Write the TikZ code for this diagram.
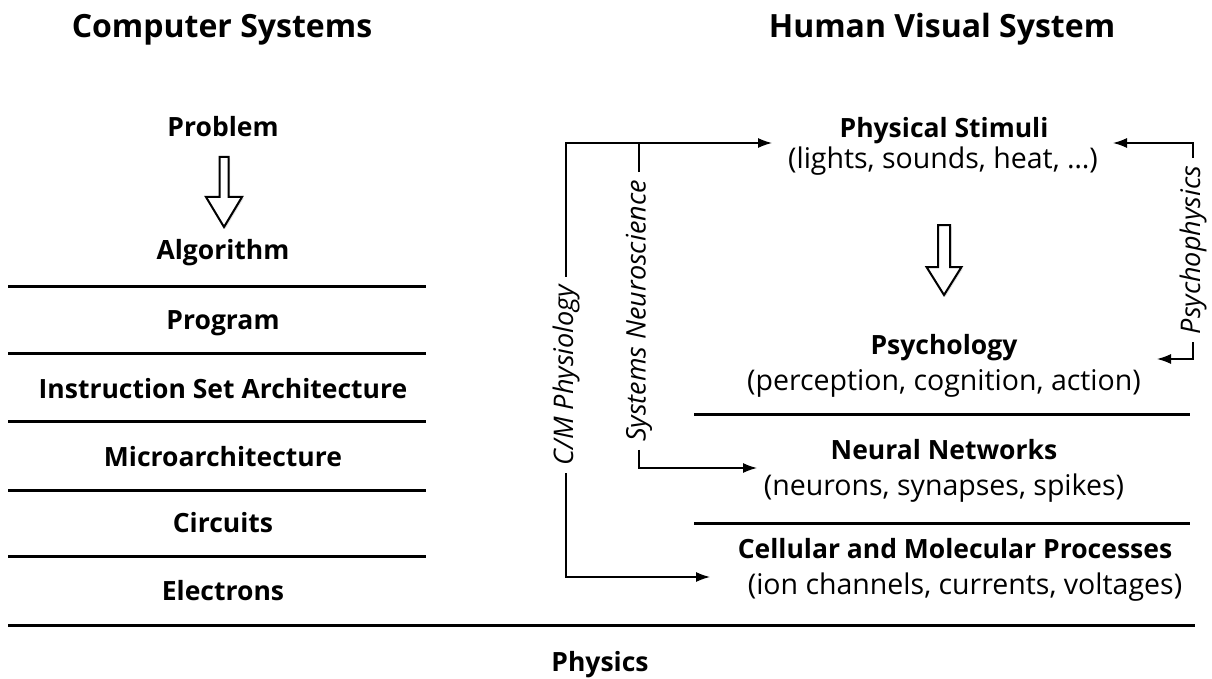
\documentclass[tikz,border=0pt]{standalone}
\usepackage{fontspec}
\setmainfont{Open Sans}
\usetikzlibrary{arrows.meta,shadows}
\begin{document}
\begin{tikzpicture}[x=1pt,y=1pt,
  title/.style={font=\fontsize{32}{38}\selectfont\bfseries, anchor=base, inner sep=0pt},
  layer/.style={font=\fontsize{26.5}{30}\selectfont\bfseries, anchor=base, inner sep=0pt},
  sub/.style={font=\fontsize{28.5}{32}\selectfont, anchor=base, inner sep=0pt},
  rule/.style={line width=3pt},
  conn/.style={line width=1.3pt},
  arr/.style={conn, -{Latex[length=14pt,width=10pt]}},
  lab/.style={font=\fontsize{27}{30}\selectfont\itshape, rotate=90, inner xsep=8pt, inner ysep=0pt},
  hollow/.style={draw=black, line width=2pt, fill=white, line join=miter,
    drop shadow={shadow xshift=1.5pt, shadow yshift=-1.5pt, opacity=0.25}}
]
\useasboundingbox (0,0) rectangle (1212,-679);

% titles
\node[title] (cs) at (222,-38) {Computer Systems};
\node[title] (hvs) at (942,-38) {Human Visual System};

% left column
\node[layer] (prob) at (223,-137) {Problem};
\node[layer] (alg) at (223,-259) {Algorithm};
\node[layer] (prog) at (223,-329) {Program};
\node[layer] (isa) at (223,-398) {Instruction Set Architecture};
\node[layer] (uarch) at (223,-466) {Microarchitecture};
\node[layer] (circ) at (223,-532) {Circuits};
\node[layer] (elec) at (223,-600) {Electrons};
\node[layer] (phys) at (600,-671) {Physics};

\draw[rule] (8,-286) -- (426,-286);
\draw[rule] (8,-353) -- (426,-353);
\draw[rule] (8,-421) -- (426,-421);
\draw[rule] (8,-490) -- (426,-490);
\draw[rule] (8,-556) -- (426,-556);
\draw[rule] (8,-625) -- (1195,-625);
\draw[rule] (694,-414) -- (1190,-414);
\draw[rule] (694,-523) -- (1190,-523);

% hollow arrows
\draw[hollow] (219.5,-157) -- (228.5,-157) -- (228.5,-197) -- (242,-197) -- (224,-227)
  -- (206,-197) -- (219.5,-197) -- cycle;
\draw[hollow] (938,-225) -- (950,-225) -- (950,-267) -- (961.5,-267) -- (944,-295)
  -- (926.5,-267) -- (938,-267) -- cycle;

% right column
\node[layer] (ps) at (944,-138) {Physical Stimuli};
\node[sub] (pssub) at (943,-169) {(lights, sounds, heat, …)};
\node[layer] (psy) at (944,-354) {Psychology};
\node[sub] (psysub) at (944,-390) {(perception, cognition, action)};
\node[layer] (nn) at (944,-459) {Neural Networks};
\node[sub] (nnsub) at (944,-495) {(neurons, synapses, spikes)};
\node[layer] (cmp) at (955,-558) {Cellular and Molecular Processes};
\node[sub] (cmpsub) at (965,-594) {(ion channels, currents, voltages)};

% connector labels
\node[lab] (cm) at (566,-375) {C/M Physiology};
\node[lab] (sn) at (639,-311) {Systems Neuroscience};
\node[lab] (pp) at (1193,-250) {Psychophysics};

\coordinate (psinL) at (772,-143);
\coordinate (psinR) at (1113,-143);
\coordinate (psyin) at (1157,-359);
\coordinate (nnin) at (757,-468);
\coordinate (cmpin) at (710,-577);

\draw[arr] (cm.east) |- (psinL);
\draw[arr] (cm.west) |- (cmpin);
\draw[conn] (sn.east) -- (sn.east |- psinL);
\draw[arr] (sn.west) |- (nnin);
\draw[arr] (pp.east) |- (psinR);
\draw[arr] (pp.west) |- (psyin);
\end{tikzpicture}
\end{document}
